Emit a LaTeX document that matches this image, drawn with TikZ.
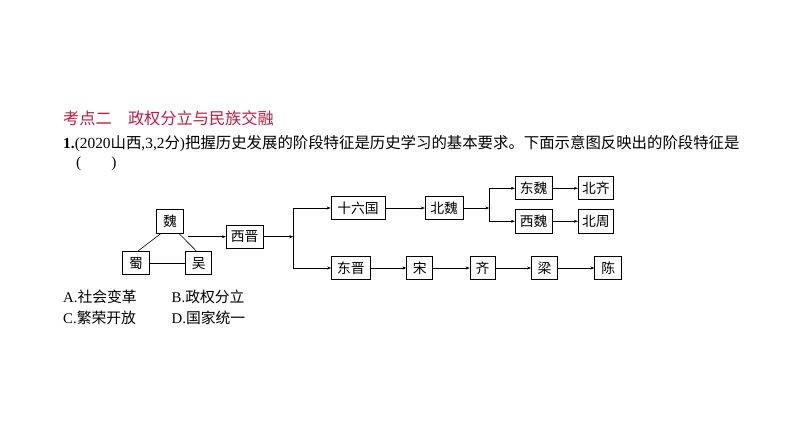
\documentclass[tikz,border=0pt]{standalone}
\usepackage{fontspec}
\setmainfont{Liberation Serif}
\newfontfamily\cjk{Noto Sans CJK SC}
\usetikzlibrary{arrows.meta}
\definecolor{titlered}{RGB}{192,28,64}
\begin{document}
\begin{tikzpicture}[x=1pt,y=-1pt,
  bx/.style={draw=black,line width=0.8pt,inner sep=0pt,minimum height=23pt,font=\cjk\fontsize{13.8}{14}\selectfont},
  arr/.style={-{Stealth[length=4pt,width=3pt]},line width=0.6pt},
  ln/.style={line width=0.6pt},
  txt/.style={anchor=west,inner sep=0pt}]
\useasboundingbox[fill=white] (0,0) rectangle (794,443);
% texts
\node[txt,text=titlered,font=\cjk\fontsize{16.2}{18}\selectfont] (title) at (63,118.3) {考点二　政权分立与民族交融};
\node[txt,font=\fontsize{15.4}{18}\selectfont] (q) at (63,143.3) {\textbf{1.}(2020{\cjk 山西},3,2{\cjk 分}){\cjk 把握历史发展的阶段特征是历史学习的基本要求。下面示意图反映出的阶段特征是}};
\node[txt,font=\fontsize{15.4}{18}\selectfont] (paren) at (76,163.3) {(\hspace{30pt})};
\node[txt,font=\fontsize{14.8}{16}\selectfont] (oa) at (63,297) {A.{\cjk 社会变革}};
\node[txt,font=\fontsize{14.8}{16}\selectfont] (ob) at (171.5,297) {B.{\cjk 政权分立}};
\node[txt,font=\fontsize{14.8}{16}\selectfont] (oc) at (63,317.7) {C.{\cjk 繁荣开放}};
\node[txt,font=\fontsize{14.8}{16}\selectfont] (od) at (171.5,317.7) {D.{\cjk 国家统一}};
% boxes
\node[bx,minimum width=27pt,minimum height=24pt] (wei) at (170,221) {魏};
\node[bx,minimum width=27pt] (shu) at (136,263.3) {蜀};
\node[bx,minimum width=26pt] (wu) at (198.7,263.3) {吴};
\node[bx,minimum width=37pt] (xj) at (244.7,236.7) {西晋};
\node[bx,minimum width=54pt] (slg) at (358,208) {十六国};
\node[bx,minimum width=38pt] (bw) at (444.2,208) {北魏};
\node[bx,minimum width=37pt] (dw) at (533.7,188.3) {东魏};
\node[bx,minimum width=37pt,minimum height=24pt] (xw) at (533.7,221.3) {西魏};
\node[bx,minimum width=35pt] (bq) at (595.8,188.3) {北齐};
\node[bx,minimum width=35pt,minimum height=24pt] (bz) at (595.8,221.3) {北周};
\node[bx,minimum width=38.5pt] (dj) at (350.8,268) {东晋};
\node[bx,minimum width=26pt] (song) at (419.7,268) {宋};
\node[bx,minimum width=25pt] (qi) at (482.5,268) {齐};
\node[bx,minimum width=26pt] (liang) at (544.5,268) {梁};
\node[bx,minimum width=27pt] (chen) at (608.3,268) {陈};
% connectors
\coordinate (s0) at (188,236.7);
\coordinate (j1) at (293.3,236.7);
\coordinate (j2) at (489.3,208);
\draw[ln] ([xshift=5pt]wei.south west) -- ([xshift=1.5pt]shu.north);
\draw[ln] ([xshift=-5pt]wei.south east) -- ([xshift=-2pt]wu.north);
\draw[ln] (shu.east) -- (wu.west);
\draw[arr] (s0) -- (xj.west);
\draw[arr] (xj.east) -- (j1);
\draw[arr] (j1) |- (slg.west);
\draw[arr] (j1) |- (dj.west);
\draw[arr] (slg.east) -- (bw.west);
\draw[arr] (bw.east) -- (j2);
\draw[arr] (j2) |- (dw.west);
\draw[arr] (j2) |- (xw.west);
\draw[arr] (dw.east) -- (bq.west);
\draw[arr] (xw.east) -- (bz.west);
\draw[arr] (dj.east) -- (song.west);
\draw[arr] (song.east) -- (qi.west);
\draw[arr] (qi.east) -- (liang.west);
\draw[arr] (liang.east) -- (chen.west);
\end{tikzpicture}
\end{document}
